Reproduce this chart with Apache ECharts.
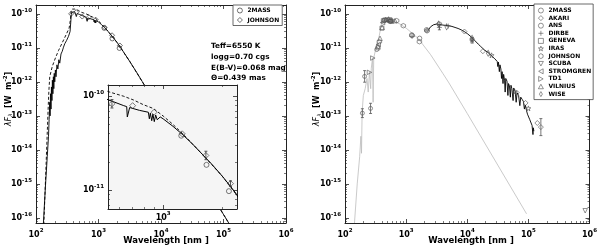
<!DOCTYPE html>
<html><head><meta charset="utf-8">
<script src="https://cdn.jsdelivr.net/npm/echarts@6/dist/echarts.min.js"></script>
<style>html,body{margin:0;padding:0;background:#fff}#c{width:600px;height:248px}</style>
</head><body><div id="c"></div>
<script>
// ---------- tick labels (powers of ten) ----------
const xTickExp = [2, 3, 4, 5, 6];
const yTickExp = [-16, -15, -14, -13, -12, -11, -10];
const insetXTickExp = [3];
const insetYTickExp = [-11, -10];

// ---------- LEFT PANEL: photospheric model (log10 nm, log10 W m^-2) ----------
const modelLogWave = [2.117,2.150,2.180,2.200,2.210,2.220,2.225,2.232,2.240,2.247,2.255,2.262,2.270,2.278,2.285,2.292,2.300,2.310,2.320,2.335,2.350,2.365,2.380,2.400,2.420,2.440,2.460,2.490,2.520,2.545,2.556,2.565,2.575,2.590,2.605,2.620,2.640,2.645,2.660,2.700,2.750,2.800,2.815,2.818,2.830,2.880,2.925,2.930,2.935,2.942,2.948,2.955,2.962,2.970,2.985,3.000,3.050,3.100,3.150,3.200,3.250,3.300,3.350,3.400,3.500,3.600,3.700,3.800,4.000,4.250,4.500,4.750,5.000,5.100];
const modelLogFlux = [-16.20,-15.10,-14.20,-13.60,-13.10,-12.60,-13.00,-12.35,-12.80,-12.15,-12.55,-11.95,-12.35,-11.85,-12.20,-11.75,-12.00,-11.65,-11.85,-11.50,-11.62,-11.35,-11.45,-11.18,-11.10,-10.98,-10.88,-10.78,-10.66,-10.52,-10.25,-10.02,-9.95,-9.93,-9.92,-9.94,-9.98,-10.08,-9.99,-10.02,-10.06,-10.10,-10.11,-10.22,-10.12,-10.15,-10.17,-10.24,-10.18,-10.26,-10.19,-10.27,-10.20,-10.25,-10.22,-10.24,-10.32,-10.41,-10.51,-10.62,-10.73,-10.85,-10.98,-11.12,-11.40,-11.69,-11.99,-12.29,-12.89,-13.64,-14.39,-15.14,-15.90,-16.20];
// dashed model
const dashLogWave = [2.125,2.160,2.190,2.205,2.220,2.260,2.310,2.360,2.420,2.480,2.530,2.550,2.562,2.580,2.620,2.680,2.720,2.800,2.850,2.900,2.950,3.000,3.050,3.100,3.150,3.200,3.300,3.500,4.000,5.000,5.100];
const dashLogFlux = [-16.20,-14.50,-13.00,-12.30,-11.85,-11.55,-11.30,-11.08,-10.85,-10.62,-10.42,-10.18,-9.92,-9.86,-9.86,-9.90,-9.95,-10.00,-10.04,-10.09,-10.13,-10.21,-10.30,-10.40,-10.51,-10.62,-10.85,-11.40,-12.89,-15.90,-16.20];
// photometry
const leftJohnsonLogWave = [2.562,2.643,2.740,2.845,2.954,3.097,3.217,3.342];
const leftJohnsonLogFlux = [-10.00,-9.95,-10.08,-10.10,-10.17,-10.40,-10.63,-10.93];
const leftJohnsonErr     = [0,0,0.045,0,0,0,0.045,0.03];
const left2massLogWave = [3.092,3.220,3.334];
const left2massLogFlux = [-10.42,-10.73,-11.01];

// ---------- RIGHT PANEL ----------
const photLogWave = [2.155,2.200,2.240,2.260,2.270,2.280,2.300,2.330,2.360,2.380,2.400,2.420,2.430,2.450,2.460,2.470,2.500,2.530,2.560,2.590,2.610,2.640,2.700,2.800,2.900,3.000,3.100,3.200,3.400,3.600,3.700,4.000,4.500,4.970];
const photLogFlux = [-16.15,-15.00,-14.20,-13.60,-14.10,-12.90,-12.40,-12.20,-11.90,-12.30,-11.70,-12.20,-11.60,-11.30,-12.60,-11.30,-11.05,-10.85,-10.65,-10.35,-10.18,-10.12,-10.14,-10.22,-10.30,-10.42,-10.57,-10.73,-11.20,-11.75,-12.03,-12.93,-14.45,-15.88];
const irLogWave = [3.365,3.400,3.450,3.500,3.550,3.600,3.650,3.700,3.750,3.800,3.850,3.900,3.950,4.000,4.060,4.120,4.180,4.220,4.280,4.357,4.400,4.450,4.490,4.500,4.510,4.525,4.535,4.550,4.560,4.570,4.585,4.595,4.610,4.620,4.630,4.650,4.665,4.675,4.690,4.705,4.715,4.730,4.750,4.760,4.784,4.800,4.815,4.840,4.860,4.875,4.900,4.919,4.935,4.950,4.970,4.985,5.000,5.020,5.040,5.060,5.075,5.080,5.090];
const irLogFlux = [-10.47,-10.38,-10.32,-10.30,-10.31,-10.33,-10.34,-10.35,-10.37,-10.40,-10.43,-10.47,-10.52,-10.58,-10.67,-10.78,-10.89,-10.96,-11.06,-11.16,-11.24,-11.32,-11.40,-11.55,-11.42,-11.70,-11.50,-11.62,-11.90,-11.70,-12.05,-11.78,-11.95,-12.30,-11.90,-11.98,-12.40,-12.05,-12.12,-12.45,-12.10,-12.20,-12.55,-12.18,-12.28,-12.60,-12.32,-12.40,-12.70,-12.45,-12.52,-12.58,-12.80,-12.68,-12.85,-12.95,-12.90,-13.10,-13.15,-13.28,-13.55,-13.35,-13.45];

const r2massW = [3.092,3.220,3.334],            r2massF = [-10.62,-10.72,-10.47];
const akariW = [3.954,4.255,4.810,4.954,5.146,5.204], akariF = [-10.52,-11.10,-12.32,-12.62,-13.21,-13.33];
const akariErr = [0,0,0,0,0,0.25];
const ansW = [2.284,2.321,2.418,2.519],          ansF = [-12.92,-11.84,-12.78,-11.05];
const ansErr = [0.13,0.17,0.15,0];
const dirbeW = [3.097,3.342,3.544,3.690,4.080],  dirbeF = [-10.66,-10.48,-10.40,-10.36,-10.78];
const dirbeErr = [0,0,0.07,0,0.08];
const genevaW = [2.539,2.604,2.627,2.651,2.732,2.741,2.764], genevaF = [-11.00,-10.42,-10.20,-10.18,-10.17,-10.21,-10.22];
const irasW = [4.079,4.398,4.778,5.000],         irasF = [-10.76,-11.22,-12.30,-12.78];
const rJohnsonW = [2.562,2.643,2.740,2.845,2.954,3.097,3.217,3.342,3.544], rJohnsonF = [-10.82,-10.20,-10.22,-10.20,-10.35,-10.64,-10.82,-10.50,-10.30];
const scubaW = [5.929],                          scubaF = [-15.79];
const stromW = [2.544,2.614,2.669,2.738],        stromF = [-10.90,-10.26,-10.18,-10.20];
const td1W = [2.400,2.455],                      td1F = [-11.72,-11.30];
const vilniusW = [2.538,2.573,2.607,2.668,2.713,2.736,2.817], vilniusF = [-10.95,-10.72,-10.40,-10.16,-10.15,-10.19,-10.20];
const wiseW = [3.531,3.663,4.079,4.342],         wiseF = [-10.30,-10.38,-10.72,-11.16];

// ---------- helpers ----------
const F = 'DejaVu Sans';
const AX = '#222';
const zip = (a, b) => a.map((v, i) => [v, b[i]]);
const errData = (w, f, e) => w.map((v, i) => [v, f[i] - e[i], f[i] + e[i]]).filter((d, i) => e[i] > 0);
const minorOf = (lo, hi) => { const a = []; for (let n = Math.floor(lo); n <= Math.ceil(hi); n++) for (let k = 2; k <= 9; k++) { const v = n + Math.log10(k); if (v > lo && v < hi) a.push(v); } return a; };
const RICH = {
  b: {fontFamily: F, fontWeight: 'bold', fontSize: 8, color: '#000'},
  s: {fontFamily: F, fontWeight: 'bold', fontSize: 5.5, color: '#000', padding: [0, 0, 7, 0]}
};
const fmt = v => `{b|10}{s|${Math.round(v)}}`;

const xAxes = [], yAxes = [];
function addAxes(list, dim, gridIndex, min, max, majors, labels, z, margin) {
  const minors = minorOf(min, max);
  const pos = dim === 'x' ? ['bottom', 'top'] : ['left', 'right'];
  const common = {type: 'value', gridIndex, min, max, z, splitLine: {show: false},
    axisLine: {show: true, onZero: false, lineStyle: {color: AX, width: 1}}};
  const idx = list.length;
  list.push(Object.assign({}, common, {position: pos[0],
    axisTick: {show: true, inside: true, length: 4, customValues: majors, lineStyle: {color: AX, width: 0.8}},
    axisLabel: {show: labels, customValues: majors, margin, formatter: fmt, rich: RICH}}));
  list.push(Object.assign({}, common, {position: pos[1],
    axisTick: {show: true, inside: true, length: 4, customValues: majors, lineStyle: {color: AX, width: 0.8}},
    axisLabel: {show: false}}));
  list.push(Object.assign({}, common, {position: pos[0], axisLine: {show: false},
    axisTick: {show: true, inside: true, length: 2, customValues: minors, lineStyle: {color: AX, width: 0.6}},
    axisLabel: {show: false}}));
  list.push(Object.assign({}, common, {position: pos[1], axisLine: {show: false},
    axisTick: {show: true, inside: true, length: 2, customValues: minors, lineStyle: {color: AX, width: 0.6}},
    axisLabel: {show: false}}));
  return idx;
}

const YMIN = -16.15, YMAX = -9.74;
const LX = addAxes(xAxes, 'x', 0, 2, 6, xTickExp, true, 0, 5);
const LY = addAxes(yAxes, 'y', 0, YMIN, YMAX, yTickExp, true, 0, 4);
const RX = addAxes(xAxes, 'x', 1, 2, 6, xTickExp, true, 0, 5);
const RY = addAxes(yAxes, 'y', 1, YMIN, YMAX, yTickExp, true, 0, 4);
const IX = addAxes(xAxes, 'x', 2, 2.72, 3.375, insetXTickExp, true, 6, 2);
const IY = addAxes(yAxes, 'y', 2, -11.2, -9.88, insetYTickExp, true, 6, 4);

const hollow = (c, w) => ({color: 'rgba(0,0,0,0)', borderColor: c, borderWidth: w || 0.8});
function lineS(xi, yi, w, f, color, width, dashed, z) {
  return {type: 'line', xAxisIndex: xi, yAxisIndex: yi, data: zip(w, f), symbol: 'none', silent: true, z: z,
    lineStyle: {color, width, type: dashed ? [3, 2] : 'solid'}, animation: false};
}
function scat(name, xi, yi, w, f, symbol, size, color, z) {
  return {type: 'scatter', name, xAxisIndex: xi, yAxisIndex: yi, data: zip(w, f), symbol, symbolSize: size,
    itemStyle: hollow(color), silent: true, z: z, animation: false};
}
function errS(xi, yi, data, color, z) {
  return {type: 'custom', xAxisIndex: xi, yAxisIndex: yi, data, silent: true, z: z, animation: false,
    renderItem: (p, api) => {
      const x = api.value(0), a = api.coord([x, api.value(1)]), b = api.coord([x, api.value(2)]);
      const st = {stroke: color, lineWidth: 0.8};
      return {type: 'group', children: [
        {type: 'line', shape: {x1: a[0], y1: a[1], x2: b[0], y2: b[1]}, style: st},
        {type: 'line', shape: {x1: a[0] - 1.5, y1: a[1], x2: a[0] + 1.5, y2: a[1]}, style: st},
        {type: 'line', shape: {x1: b[0] - 1.5, y1: b[1], x2: b[0] + 1.5, y2: b[1]}, style: st}]};
    }};
}
const HEX = 'path://M5,0 L9.33,2.5 L9.33,7.5 L5,10 L0.67,7.5 L0.67,2.5 Z';
const PLUS = 'path://M5,0 L5,10 M0,5 L10,5';
const STAR = 'path://M5,0 L6.2,3.6 L10,3.6 L6.9,5.9 L8.1,9.5 L5,7.3 L1.9,9.5 L3.1,5.9 L0,3.6 L3.8,3.6 Z';
const TDOWN = 'path://M0,0 L10,0 L5,9 Z';
const TLEFT = 'path://M9,0 L9,10 L0,5 Z';
const TRIGHT = 'path://M0,0 L0,10 L9,5 Z';
const TUP = 'path://M5,0 L10,9 L0,9 Z';
const TDIAM = 'path://M3,0 L6,5 L3,10 L0,5 Z';
const G = '#555';

const series = [
  lineS(LX, LY, modelLogWave, modelLogFlux, '#000', 0.9, false, 2),
  lineS(LX, LY, dashLogWave, dashLogFlux, '#000', 0.9, true, 2),
  scat('JOHNSON', LX, LY, leftJohnsonLogWave, leftJohnsonLogFlux, 'diamond', 5, '#222', 3),
  scat('2MASS', LX, LY, left2massLogWave, left2massLogFlux, 'circle', 4.5, '#222', 3),
  lineS(IX, IY, modelLogWave, modelLogFlux, '#000', 1, false, 7),
  lineS(IX, IY, dashLogWave, dashLogFlux, '#000', 0.9, true, 7),
  scat('JOHNSON', IX, IY, leftJohnsonLogWave, leftJohnsonLogFlux, 'diamond', 6, '#333', 8),
  scat('2MASS', IX, IY, left2massLogWave, left2massLogFlux, 'circle', 5, '#333', 8),
  errS(IX, IY, errData(leftJohnsonLogWave, leftJohnsonLogFlux, leftJohnsonErr), '#333', 8),
  lineS(RX, RY, photLogWave, photLogFlux, '#bcbcbc', 0.8, false, 2),
  lineS(RX, RY, irLogWave, irLogFlux, '#000', 0.9, false, 2),
  scat('2MASS', RX, RY, r2massW, r2massF, 'circle', 4.5, G, 3),
  scat('AKARI', RX, RY, akariW, akariF, 'diamond', 5, G, 3),
  scat('ANS', RX, RY, ansW, ansF, 'circle', 4, G, 3),
  scat('DIRBE', RX, RY, dirbeW, dirbeF, PLUS, 5, G, 3),
  scat('GENEVA', RX, RY, genevaW, genevaF, 'rect', 4, G, 3),
  scat('IRAS', RX, RY, irasW, irasF, STAR, 5, G, 3),
  scat('JOHNSON', RX, RY, rJohnsonW, rJohnsonF, HEX, 4.5, G, 3),
  scat('SCUBA', RX, RY, scubaW, scubaF, TDOWN, 4.5, G, 3),
  scat('STROMGREN', RX, RY, stromW, stromF, TLEFT, 4.5, G, 3),
  scat('TD1', RX, RY, td1W, td1F, TRIGHT, 4.5, G, 3),
  scat('VILNIUS', RX, RY, vilniusW, vilniusF, TUP, 4.5, G, 3),
  scat('WISE', RX, RY, wiseW, wiseF, TDIAM, [3.5, 6], G, 3),
  errS(RX, RY, errData(ansW, ansF, ansErr), G, 3),
  errS(RX, RY, errData(akariW, akariF, akariErr), G, 3),
  errS(RX, RY, errData(dirbeW, dirbeF, dirbeErr), G, 3)
];

const legText = {fontFamily: F, fontWeight: 'bold', fontSize: 6, color: '#000', lineHeight: 7};
const li = (name, icon, color) => ({name, icon, itemStyle: hollow(color)});
const yTitleRich = {
  i: {fontFamily: F, fontStyle: 'italic', fontSize: 8, fill: '#000'},
  sub: {fontFamily: F, fontStyle: 'italic', fontSize: 5.5, fill: '#000', padding: [5, 0, 0, 0]},
  b: {fontFamily: F, fontWeight: 'bold', fontSize: 8, fill: '#000'},
  sup: {fontFamily: F, fontWeight: 'bold', fontSize: 5.5, fill: '#000', padding: [0, 0, 6, 0]}
};
const yTitle = (x) => ({type: 'text', x, y: 99, rotation: Math.PI / 2, z: 10, silent: true,
  style: {text: '{i|λF}{sub|λ}{b|  [W  m}{sup|-2}{b|]}', rich: yTitleRich, align: 'center', verticalAlign: 'middle'}});
const xTitle = (x) => ({type: 'text', x, y: 241, z: 10, silent: true,
  style: {text: 'Wavelength [nm ]', font: 'bold 8.5px "DejaVu Sans"', fill: '#000', align: 'center', verticalAlign: 'middle'}});

const option = {
  animation: false,
  backgroundColor: '#fff',
  grid: [
    {left: 36, top: 5, width: 250, height: 218},
    {left: 345, top: 5, width: 249, height: 218},
    {left: 108, top: 85, width: 129, height: 124, show: true, backgroundColor: '#f5f5f5', borderWidth: 0, z: 5}
  ],
  xAxis: xAxes,
  yAxis: yAxes,
  legend: [
    {left: 233, top: 5, orient: 'vertical', itemWidth: 5, itemHeight: 5, itemGap: 2.5, padding: [2, 3, 2, 4],
     borderColor: '#444', borderWidth: 0.8, backgroundColor: '#fff', selectedMode: false, textStyle: legText,
     data: [li('2MASS', 'circle', '#222'), li('JOHNSON', 'diamond', '#222')]},
    {left: 534, top: 4, orient: 'vertical', itemWidth: 5, itemHeight: 5, itemGap: 0.6, padding: [3, 2, 2, 4],
     borderColor: '#444', borderWidth: 0.8, backgroundColor: '#fff', selectedMode: false, textStyle: legText,
     data: [li('2MASS', 'circle', G), li('AKARI', 'diamond', G), li('ANS', 'circle', G), li('DIRBE', PLUS, G),
            li('GENEVA', 'rect', G), li('IRAS', STAR, G), li('JOHNSON', HEX, G), li('SCUBA', TDOWN, G),
            li('STROMGREN', TLEFT, G), li('TD1', TRIGHT, G), li('VILNIUS', TUP, G), li('WISE', TDIAM, G)]}
  ],
  graphic: [
    {type: 'text', left: 211, top: 41, z: 10,
     style: {text: 'Teff=6550 K\nlogg=0.70 cgs\nE(B-V)=0.068 mag\nΘ=0.439 mas', font: 'bold 7.3px "DejaVu Sans"', lineHeight: 10.7, fill: '#000'}},
    yTitle(8.5), yTitle(317), xTitle(166), xTitle(471)
  ],
  series
};
const chart = echarts.init(document.getElementById('c'), null, {renderer: 'canvas'});
chart.setOption(option);
</script></body></html>
